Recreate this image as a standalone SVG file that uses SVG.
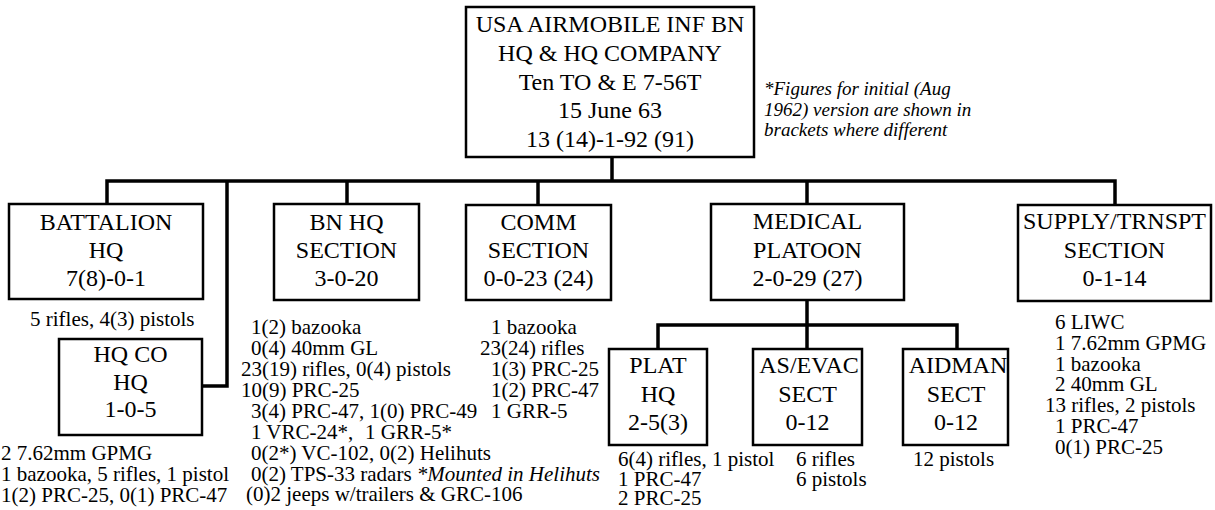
<svg xmlns="http://www.w3.org/2000/svg" width="1215" height="510" viewBox="0 0 1215 510">
<style>
.box{fill:#fff;stroke:#000;stroke-width:2.5}
.t{font-family:"Liberation Serif","Times New Roman",serif;font-size:24px;fill:#000;text-anchor:middle}
.d{font-family:"Liberation Serif","Times New Roman",serif;font-size:21px;fill:#000}
.n{font-family:"Liberation Serif","Times New Roman",serif;font-size:19px;font-style:italic;fill:#000}
.c{fill:none;stroke:#000;stroke-width:3.5}
</style>
<rect width="1215" height="510" fill="#fff"/>
<g id="connectors">
<path class="c" d="M612 157V181"/>
<path class="c" d="M107 204V181H1115V205"/>
<path class="c" d="M347 181V204"/>
<path class="c" d="M538 181V205"/>
<path class="c" d="M807 181V204"/>
<path class="c" d="M227 181V386H202"/>
<path class="c" d="M807 300V349"/>
<path class="c" d="M658 349V325H957V349"/>
</g>
<g id="top">
<rect class="box" x="466" y="7" width="288" height="150"/>
<text class="t" x="610" y="32">USA AIRMOBILE INF BN</text>
<text class="t" x="610" y="61">HQ &amp; HQ COMPANY</text>
<text class="t" x="610" y="89.5">Ten TO &amp; E 7-56T</text>
<text class="t" x="610" y="118">15 June 63</text>
<text class="t" x="610" y="147">13 (14)-1-92 (91)</text>
</g>
<g id="note">
<text class="n" x="764" y="95">*Figures for initial (Aug</text>
<text class="n" x="764" y="116">1962) version are shown in</text>
<text class="n" x="764" y="136">brackets where different</text>
</g>
<g id="battalion-hq">
<rect class="box" x="9" y="204" width="194" height="95"/>
<text class="t" x="106" y="230">BATTALION</text>
<text class="t" x="106" y="258">HQ</text>
<text class="t" x="106" y="286">7(8)-0-1</text>
<text class="d" x="30" y="326">5 rifles, 4(3) pistols</text>
</g>
<g id="hq-co-hq">
<rect class="box" x="59" y="339" width="143" height="96"/>
<text class="t" x="130.5" y="362">HQ CO</text>
<text class="t" x="130.5" y="390">HQ</text>
<text class="t" x="130.5" y="417">1-0-5</text>
<text class="d" x="1" y="460">2 7.62mm GPMG</text>
<text class="d" x="1" y="481">1 bazooka, 5 rifles, 1 pistol</text>
<text class="d" x="1" y="502">1(2) PRC-25, 0(1) PRC-47</text>
</g>
<g id="bn-hq-section">
<rect class="box" x="274" y="204" width="145" height="96"/>
<text class="t" x="346.5" y="230">BN HQ</text>
<text class="t" x="346.5" y="258">SECTION</text>
<text class="t" x="346.5" y="286">3-0-20</text>
<text class="d" x="251" y="334">1(2) bazooka</text>
<text class="d" x="251" y="355">0(4) 40mm GL</text>
<text class="d" x="241" y="376">23(19) rifles, 0(4) pistols</text>
<text class="d" x="241" y="397">10(9) PRC-25</text>
<text class="d" x="251" y="418">3(4) PRC-47, 1(0) PRC-49</text>
<text class="d" x="251" y="438.5">1 VRC-24*,<tspan x="365">1 GRR-5*</tspan></text>
<text class="d" x="251" y="459.5">0(2*) VC-102, 0(2) Helihuts</text>
<text class="d" x="251" y="480.5">0(2) TPS-33 radars <tspan font-style="italic">*Mounted in Helihuts</tspan></text>
<text class="d" x="246" y="501">(0)2 jeeps w/trailers &amp; GRC-106</text>
</g>
<g id="comm-section">
<rect class="box" x="466" y="205" width="145" height="95"/>
<text class="t" x="538.5" y="230">COMM</text>
<text class="t" x="538.5" y="258">SECTION</text>
<text class="t" x="538.5" y="286">0-0-23 (24)</text>
<text class="d" x="491" y="334">1 bazooka</text>
<text class="d" x="480" y="355">23(24) rifles</text>
<text class="d" x="491" y="376">1(3) PRC-25</text>
<text class="d" x="491" y="397">1(2) PRC-47</text>
<text class="d" x="491" y="418">1 GRR-5</text>
</g>
<g id="medical-platoon">
<rect class="box" x="711" y="204" width="193" height="96"/>
<text class="t" x="807.5" y="229">MEDICAL</text>
<text class="t" x="807.5" y="257.5">PLATOON</text>
<text class="t" x="807.5" y="286">2-0-29 (27)</text>
</g>
<g id="plat-hq">
<rect class="box" x="609" y="349" width="98" height="96"/>
<text class="t" x="658" y="373">PLAT</text>
<text class="t" x="658" y="401.5">HQ</text>
<text class="t" x="658" y="430">2-5(3)</text>
<text class="d" x="618" y="466">6(4) rifles, 1 pistol</text>
<text class="d" x="618" y="486">1 PRC-47</text>
<text class="d" x="618" y="505">2 PRC-25</text>
</g>
<g id="as-evac-sect">
<rect class="box" x="753" y="349" width="109" height="96"/>
<text class="t" x="809" y="373">AS/EVAC</text>
<text class="t" x="807.5" y="401.5">SECT</text>
<text class="t" x="807.5" y="430">0-12</text>
<text class="d" x="796" y="466">6 rifles</text>
<text class="d" x="796" y="486">6 pistols</text>
</g>
<g id="aidman-sect">
<rect class="box" x="903" y="349" width="105" height="96"/>
<text class="t" x="958" y="373">AIDMAN</text>
<text class="t" x="956" y="401.5">SECT</text>
<text class="t" x="956" y="430">0-12</text>
<text class="d" x="913" y="466">12 pistols</text>
</g>
<g id="supply-trnspt-section">
<rect class="box" x="1018" y="205" width="193" height="96"/>
<text class="t" x="1114.5" y="229">SUPPLY/TRNSPT</text>
<text class="t" x="1114.5" y="257.5">SECTION</text>
<text class="t" x="1114.5" y="286">0-1-14</text>
<text class="d" x="1055" y="329">6 LIWC</text>
<text class="d" x="1055" y="350">1 7.62mm GPMG</text>
<text class="d" x="1055" y="370.5">1 bazooka</text>
<text class="d" x="1055" y="391">2 40mm GL</text>
<text class="d" x="1045" y="412">13 rifles, 2 pistols</text>
<text class="d" x="1055" y="433">1 PRC-47</text>
<text class="d" x="1055" y="453.5">0(1) PRC-25</text>
</g>
</svg>
